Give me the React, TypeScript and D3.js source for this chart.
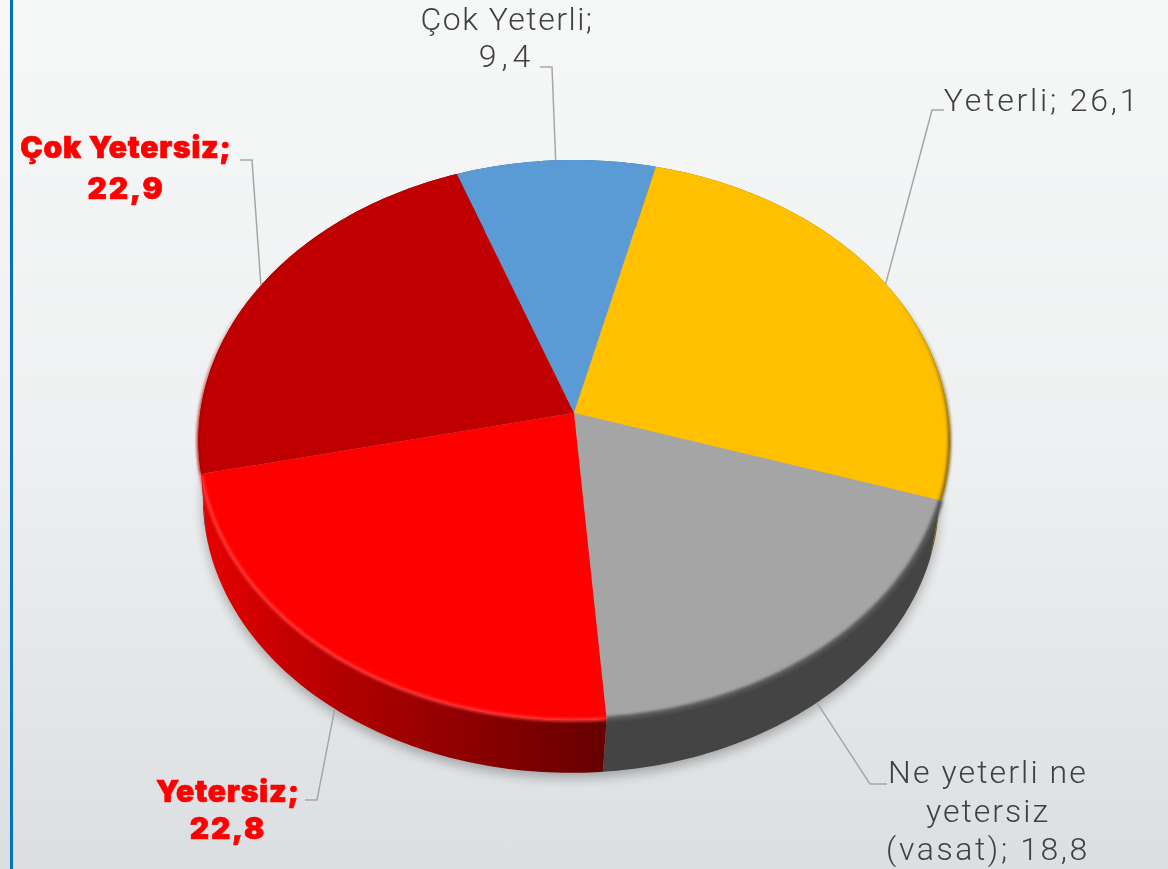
import React from "react";
import * as d3 from "d3";

const W = 1168;
const H = 869;

// clockwise from the top, first slice starts left of 12 o'clock
const categories = ["Çok Yeterli", "Yeterli", "Ne yeterli ne yetersiz (vasat)", "Yetersiz", "Çok Yetersiz"];
const values = [9.4, 26.1, 18.8, 22.8, 22.9];
const topColors = ["#5b9bd5", "#ffc000", "#a5a5a5", "#ff0000", "#c00000"];
const wallColors = ["#2f5a85", "#7f6000", "#444444", "url(#redWall)", "#800000"];
const bevelColors = ["#4a86bd", "#7a5c00", "#555555", "#ff3c3c", "#a80000"];
const boldFlags = [false, false, false, true, true];

const labelLines = [
  ["Çok Yeterli;", "9,4"],
  ["Yeterli; 26,1"],
  ["Ne yeterli ne", "yetersiz", "(vasat); 18,8"],
  ["Yetersiz;", "22,8"],
  ["Çok Yetersiz;", "22,9"],
];
// the original face is wider than anything installed, so letters get spread per line
const lineSpread = [[1.5, 5], [2.8], [2.1, 2, 2.6], [0.9, 1.8], [0.8, 1.8]];
const labelX = [507, 1042, 988, 228, 126];
const labelY = [30, 111, 783, 802, 158];
const labelStep = [37, 0, 38.5, 37, 41];
const elbow = [
  [[540, 67], [552, 67]],
  [[944, 110], [932, 110]],
  [[887, 784], [870, 784]],
  [[305, 800], [317, 800]],
  [[240, 160], [252, 160]],
];

// perspective of the tilted disc
const cx = 574;
const cy = 413;
const A = 373.8;
const B = 277.4;
const k = 0.0964;
const wallDrop = 59;
const wallShift = -3;
const wallScale = 0.98;

const toRad = (deg: number) => (deg * Math.PI) / 180;

function rim(angle: number, lower = false): [number, number] {
  const u = Math.sin(angle);
  const v = -Math.cos(angle);
  const w = 1 - k * v;
  const s = lower ? wallScale : 1;
  return [cx + (lower ? wallShift : 0) + (s * A * u) / w, cy + (lower ? wallDrop : 0) + (s * B * v) / w];
}

const pie = d3
  .pie<number>()
  .sort(null)
  .startAngle(toRad(-20))
  .endAngle(toRad(340));
const arcs = pie(values);

const line = d3.line();

function sample(a0: number, a1: number, lower = false) {
  const n = Math.max(2, Math.ceil(Math.abs(a1 - a0) * 60));
  return d3.range(n + 1).map((i) => rim(a0 + ((a1 - a0) * i) / n, lower));
}

const topPath = (a: d3.PieArcDatum<number>) =>
  line([[cx, cy], ...sample(a.startAngle, a.endAngle)]) + "Z";
const wallPath = (a: d3.PieArcDatum<number>) =>
  line([...sample(a.startAngle, a.endAngle), ...sample(a.endAngle, a.startAngle, true)]) + "Z";
const rimPath = (a: d3.PieArcDatum<number>) => line(sample(a.startAngle, a.endAngle));

export default function App() {
  return (
    <svg width={W} height={H} style={{ position: "fixed", left: 0, top: 0, display: "block" }}>
      <defs>
        <linearGradient id="bg" x1="0" y1="0" x2="0" y2="1">
          <stop offset="0" stopColor="#f6f8f8" />
          <stop offset="0.5" stopColor="#eef0f1" />
          <stop offset="1" stopColor="#dcdfe1" />
        </linearGradient>
        <linearGradient id="redWall" gradientUnits="userSpaceOnUse" x1="205" y1="0" x2="606" y2="0">
          <stop offset="0" stopColor="#e40000" />
          <stop offset="0.35" stopColor="#b00000" />
          <stop offset="1" stopColor="#660000" />
        </linearGradient>
        <linearGradient id="bevelFade" gradientUnits="userSpaceOnUse" x1="0" y1="290" x2="0" y2="440">
          <stop offset="0" stopColor="#000" />
          <stop offset="1" stopColor="#fff" />
        </linearGradient>
        <mask id="bevelMask" maskUnits="userSpaceOnUse" x="0" y="0" width={W} height={H}>
          <rect width={W} height={H} fill="url(#bevelFade)" />
        </mask>
        <filter id="shadow" x="-10%" y="-10%" width="120%" height="120%">
          <feGaussianBlur stdDeviation="6" />
        </filter>
        <filter id="soft" x="-10%" y="-10%" width="120%" height="120%">
          <feGaussianBlur stdDeviation="1.6" />
        </filter>
      </defs>

      <rect width={W} height={H} fill="url(#bg)" />
      <rect x={10} y={0} width={3} height={H} fill="#0070c0" />

      <path
        d={line(sample(0, Math.PI * 2, true)) + "Z"}
        transform="translate(0,5)"
        fill="#000"
        opacity={0.28}
        filter="url(#shadow)"
      />

      {arcs.map((a, i) => (
        <path key={"wall" + i} d={wallPath(a)} fill={wallColors[i]} />
      ))}
      {arcs.map((a, i) => (
        <path key={"top" + i} d={topPath(a)} fill={topColors[i]} />
      ))}
      <g mask="url(#bevelMask)">
        {arcs.map((a, i) => (
          <path
            key={"bevel" + i}
            d={rimPath(a) as string}
            fill="none"
            stroke={bevelColors[i]}
            strokeWidth={i === 2 ? 5 : 3}
            filter="url(#soft)"
          />
        ))}
      </g>

      {arcs.map((a, i) => {
        const mid = (a.startAngle + a.endAngle) / 2;
        const front = i === 2 || i === 3;
        const end = rim(mid, front);
        return (
          <path
            key={"leader" + i}
            d={line([...(elbow[i] as [number, number][]), end]) as string}
            fill="none"
            stroke="#a6a6a6"
            strokeWidth={1.5}
          />
        );
      })}

      {categories.map((c, i) => (
        <text
          key={c}
          textAnchor="middle"
          fontFamily={boldFlags[i] ? "Inter, sans-serif" : "Roboto, sans-serif"}
          fontWeight={boldFlags[i] ? 900 : 300}
          fontSize={boldFlags[i] ? 30 : 32}
          fill={boldFlags[i] ? "#ff0000" : "#404040"}
          stroke={boldFlags[i] ? "#ff0000" : "none"}
          strokeWidth={boldFlags[i] ? 0.7 : 0}
        >
          {labelLines[i].map((t, j) => (
            <tspan key={j} x={labelX[i]} y={labelY[i] + j * labelStep[i]} letterSpacing={lineSpread[i][j]}>
              {t}
            </tspan>
          ))}
        </text>
      ))}
    </svg>
  );
}
